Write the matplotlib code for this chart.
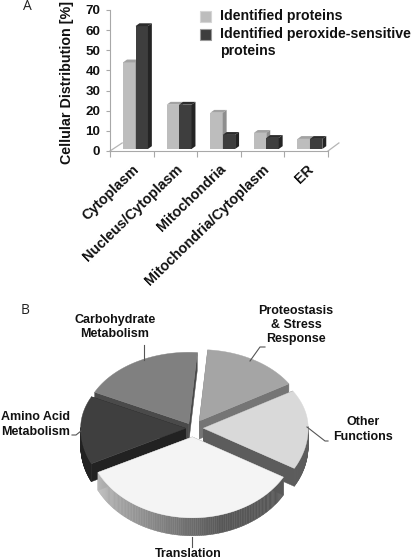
import numpy as np
import matplotlib
matplotlib.use('Agg')
import matplotlib.pyplot as plt
from matplotlib.patches import Polygon, Rectangle

plt.rcParams['font.family'] = ['Liberation Sans', 'DejaVu Sans']

# panel A
categories = ['Cytoplasm', 'Nucleus/Cytoplasm', 'Mitochondria', 'Mitochondria/Cytoplasm', 'ER']
identified = [44, 23, 19, 9, 6]
peroxide = [62, 23, 8, 6.5, 6]
y_ticks = [0, 10, 20, 30, 40, 50, 60, 70]
legend_labels = ['Identified proteins', 'Identified peroxide-sensitive\nproteins']

# panel B
pie_labels = ['Translation', 'Other\nFunctions', 'Proteostasis\n& Stress\nResponse',
              'Carbohydrate\nMetabolism', 'Amino Acid\nMetabolism']
pie_shares = [34.5, 17, 15, 19, 14.5]
pie_start = 206

W, H = 416, 560
fig = plt.figure(figsize=(W / 100, H / 100), dpi=100)


def bar_3d(ax, x, vals, width, front, top, side):
    dx, dy = 0.09, 1.4
    ax.bar(x, np.array(vals) - 1, width, bottom=1, align='edge', color=front, zorder=3)
    for xi, v in zip(x, vals):
        ax.add_patch(Polygon([(xi, v), (xi + width, v), (xi + width + dx, v + dy), (xi + dx, v + dy)],
                             color=top, lw=0, zorder=3))
        ax.add_patch(Polygon([(xi + width, 1), (xi + width + dx, 1 + dy), (xi + width + dx, v + dy), (xi + width, v)],
                             color=side, lw=0, zorder=3))


# bar chart
ax = fig.add_axes([110 / W, 1 - 151 / H, 218 / W, 141 / H])
pos = np.arange(len(categories))
bw = 0.285
bar_3d(ax, pos - bw + 0.085, identified, bw, '#bdbdbd', '#a2a2a2', '#8e8e8e')
bar_3d(ax, pos + 0.085, peroxide, bw, '#3e3e3e', '#2c2c2c', '#242424')
ax.set_xlim(-0.5, 4.5)
ax.set_ylim(0, 70)
ax.set_yticks(y_ticks)
ax.set_xticks(np.arange(-0.5, 5, 1))
ax.set_xticklabels([])
ax.set_xticks(pos, minor=True)
ax.set_xticklabels(categories, minor=True, rotation=44, ha='right', rotation_mode='anchor',
                   fontsize=10.3, fontweight='bold', color='#111111')
ax.tick_params(axis='x', which='minor', length=0, pad=8)
ax.tick_params(axis='x', which='major', length=4, color='#a8a8a8', direction='out')
ax.tick_params(axis='y', length=3, color='#a8a8a8', labelsize=9.6, pad=4)
for lab in ax.get_yticklabels():
    lab.set_fontweight('bold')
    lab.set_color('#111111')
for s in ['top', 'right']:
    ax.spines[s].set_visible(False)
for s in ['left', 'bottom']:
    ax.spines[s].set_color('#a8a8a8')
ax.plot([-0.5, -0.22], [0, 4], color='#b5b5b5', lw=0.9, clip_on=False)
ax.plot([4.5, 4.75], [0, 4], color='#b5b5b5', lw=0.9, clip_on=False)
ax.patch.set_alpha(0)

# overlay in pixel coordinates for pie and free text
ov = fig.add_axes([0, 0, 1, 1])
ov.set_xlim(0, W)
ov.set_ylim(H, 0)
ov.axis('off')
ov.patch.set_alpha(0)

ov.text(27, 6, 'A', fontsize=10, family='Open Sans', ha='center', va='center', color='#222222')
ov.text(25, 310, 'B', fontsize=10, family='Open Sans', ha='center', va='center', color='#222222')
ov.text(67, 82, 'Cellular Distribution [%]', rotation=90, fontsize=10.3, fontweight='bold',
        ha='center', va='center', color='#111111')

for yy, col, edge in [(16, '#bdbdbd', '#d5d5d5'), (34, '#3e3e3e', '#999999')]:
    ov.add_patch(Rectangle((200, yy - 5.5), 11, 11, fc=col, ec=edge, lw=0.8))
ov.text(220, 16, legend_labels[0], fontsize=10.2, fontweight='bold', va='center', color='#111111')
ov.text(220, 34, legend_labels[1].split('\n')[0], fontsize=10.2, fontweight='bold', va='center', color='#111111')
ov.text(220, 51, legend_labels[1].split('\n')[1], fontsize=10.2, fontweight='bold', va='center', color='#111111')

# exploded 3d pie
cx, cy, R, depth = 192.7, 428.3, 105, 18
face_cols = ['#f4f4f4', '#d9d9d9', '#a5a5a5', '#808080', '#3f3f3f']
side_cols = ['#707070', '#5c5c5c', '#757575', '#4a4a4a', '#222222']
explode = [0.107, 0.10, 0.12, 0.074, 0.067]
draw_order = [3, 2, 4, 1, 0]


def squash(s):
    return np.where(s > 0, 0.68, 0.77)


spans = np.cumsum([0] + pie_shares) / 100 * 360 + pie_start
for i in draw_order:
    t0, t1 = spans[i], spans[i + 1]
    mid = np.radians((t0 + t1) / 2)
    ax0 = cx + explode[i] * R * np.cos(mid)
    ay0 = cy - explode[i] * R * np.sin(mid) * squash(np.sin(mid))
    th = np.radians(np.linspace(t0, t1, 120))
    px = ax0 + R * np.cos(th)
    py = ay0 - R * np.sin(th) * squash(np.sin(th))
    # radial walls
    for ex, ey in [(px[0], py[0]), (px[-1], py[-1])]:
        ov.add_patch(Polygon([(ax0, ay0), (ex, ey), (ex, ey + depth), (ax0, ay0 + depth)],
                             fc=side_cols[i], ec=side_cols[i], lw=0.3))
    # outer rim, shaded along its length on the big slice
    for j in range(len(th) - 1):
        if np.sin(th[j]) < 0.02:
            g = side_cols[i]
            if i == 0:
                f = (np.degrees(th[j]) - t0) / (t1 - t0)
                g = str(np.clip(0.74 - 0.62 * f, 0.34, 0.74))
            ov.add_patch(Polygon([(px[j], py[j]), (px[j + 1], py[j + 1]),
                                  (px[j + 1], py[j + 1] + depth), (px[j], py[j] + depth)],
                                 fc=g, ec=g, lw=0.3))
    ov.add_patch(Polygon(np.r_[[[ax0, ay0]], np.c_[px, py]], fc=face_cols[i], ec=face_cols[i], lw=0.3))

leaders = [
    ([144, 144], [345, 360]),
    ([250, 260, 265], [361, 347, 347]),
    ([307, 325, 328], [427, 441, 441]),
    ([81, 76, 72], [431, 435, 435]),
    ([192, 192], [537, 547]),
]
for lx, ly in leaders:
    ov.plot(lx, ly, color='#555555', lw=0.8)

pie_pos = [(188, 554, 'center'), (363, 429.5, 'center'), (296, 325, 'center'),
           (115, 327, 'center'), (1, 424.5, 'left')]
for name, (tx, ty, al) in zip(pie_labels, pie_pos):
    ov.text(tx, ty, name, fontsize=9, fontweight='bold', ha=al, va='center',
            multialignment=al, linespacing=1.25, color='#111111')

fig.savefig('out.png', dpi=100)
